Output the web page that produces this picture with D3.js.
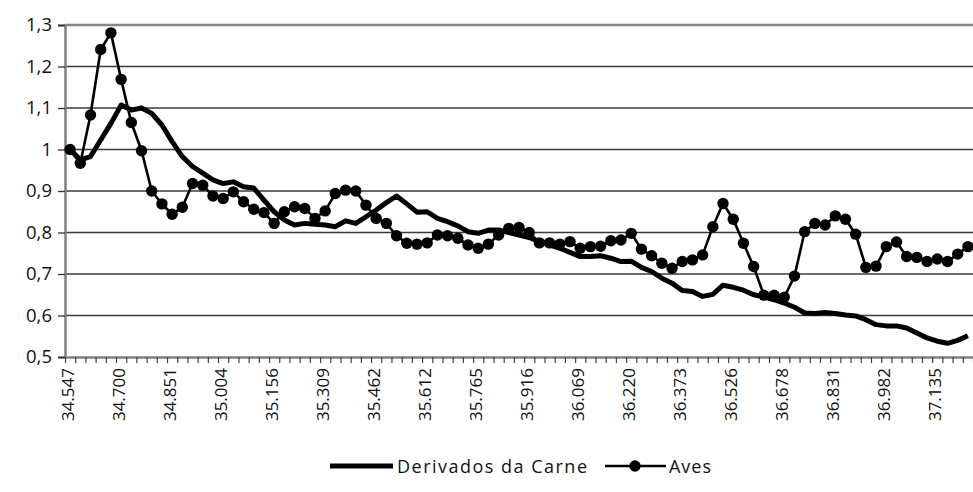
<!DOCTYPE html>
<html>
<head>
<meta charset="utf-8">
<script src="https://cdn.jsdelivr.net/npm/d3@7"></script>
<style>
  body { margin: 0; background: #fff; }
  svg { display: block; font-family: "Open Sans", "Noto Sans", sans-serif; }
</style>
</head>
<body>
<div class="chart"></div>
<script>
// months Aug 1994 .. Dec 2001 (Excel date serials shown on the axis)
const categories = d3.utcMonth.range(new Date(Date.UTC(1994, 7, 1)), new Date(Date.UTC(2002, 0, 1)))
    .map(d => d3.utcFormat("%Y-%m")(d));

const tickLabels = ["34.547", "34.700", "34.851", "35.004", "35.156", "35.309", "35.462", "35.612", "35.765",
    "35.916", "36.069", "36.220", "36.373", "36.526", "36.678", "36.831", "36.982", "37.135"];

const derivados = [1.00, 0.975, 0.983, 1.023, 1.063, 1.107, 1.095, 1.10, 1.087, 1.059,
    1.019, 0.983, 0.959, 0.943, 0.927, 0.918, 0.922, 0.910, 0.907, 0.878,
    0.85, 0.83, 0.818, 0.822, 0.82, 0.818, 0.814, 0.828, 0.822, 0.838,
    0.854, 0.872, 0.888, 0.869, 0.849, 0.85, 0.834, 0.826, 0.816, 0.802,
    0.798, 0.806, 0.806, 0.80, 0.794, 0.788, 0.778, 0.77, 0.762, 0.752,
    0.742, 0.742, 0.744, 0.738, 0.73, 0.731, 0.716, 0.706, 0.69, 0.678,
    0.66, 0.658, 0.646, 0.651, 0.673, 0.668, 0.661, 0.65, 0.645, 0.638,
    0.63, 0.62, 0.606, 0.605, 0.607, 0.605, 0.601, 0.599, 0.59, 0.578,
    0.575, 0.575, 0.57, 0.558, 0.546, 0.538, 0.533, 0.54, 0.551];

const aves = [1.00, 0.967, 1.083, 1.241, 1.281, 1.169, 1.065, 0.997, 0.90, 0.869,
    0.844, 0.861, 0.918, 0.914, 0.888, 0.882, 0.898, 0.874, 0.856, 0.848,
    0.822, 0.85, 0.862, 0.858, 0.834, 0.852, 0.894, 0.902, 0.90, 0.866,
    0.834, 0.822, 0.792, 0.774, 0.772, 0.775, 0.794, 0.792, 0.786, 0.77,
    0.762, 0.772, 0.794, 0.81, 0.812, 0.80, 0.775, 0.775, 0.772, 0.778,
    0.762, 0.766, 0.767, 0.78, 0.782, 0.798, 0.76, 0.744, 0.726, 0.714,
    0.73, 0.734, 0.746, 0.814, 0.870, 0.832, 0.774, 0.718, 0.649, 0.649,
    0.644, 0.695, 0.802, 0.822, 0.818, 0.84, 0.832, 0.796, 0.716, 0.719,
    0.766, 0.777, 0.742, 0.740, 0.73, 0.736, 0.73, 0.748, 0.766];

const yTicks = [0.5, 0.6, 0.7, 0.8, 0.9, 1.0, 1.1, 1.2, 1.3];

const width = 973, height = 492;
const margin = { top: 25, right: 0, bottom: 135, left: 65 };

const svg = d3.select(".chart").append("svg")
    .attr("width", width)
    .attr("height", height);

const x = d3.scaleLinear()
    .domain([0, categories.length])
    .range([margin.left, width - margin.right]);

const y = d3.scaleLinear()
    .domain([0.5, 1.3])
    .range([height - margin.bottom, margin.top]);

const fmt = v => v === 1 ? "1" : d3.format(".1f")(v).replace(".", ",");

// gridlines
svg.append("g")
    .selectAll("line")
    .data(yTicks.filter(v => v > 0.5 && v < 1.3))
    .join("line")
    .attr("x1", margin.left)
    .attr("x2", width)
    .attr("y1", d => y(d))
    .attr("y2", d => y(d))
    .attr("stroke", "#3a3a3a")
    .attr("stroke-width", 1.3);

// top border
svg.append("line")
    .attr("x1", margin.left).attr("x2", width)
    .attr("y1", y(1.3)).attr("y2", y(1.3))
    .attr("stroke", "#858585").attr("stroke-width", 2.5);

// y axis
const yAxis = svg.append("g")
    .attr("transform", `translate(${margin.left},0)`)
    .call(d3.axisLeft(y).tickValues(yTicks).tickSize(7).tickPadding(6).tickFormat(fmt));
yAxis.select(".domain").attr("stroke", "#808080").attr("stroke-width", 2.5);
yAxis.selectAll(".tick line").attr("stroke", "#333").attr("stroke-width", 1.3);
yAxis.selectAll("text")
    .attr("font-size", 18.5)
    .attr("fill", "#111")
    .attr("font-family", "'Open Sans', 'Noto Sans', sans-serif");

// x axis ticks at category boundaries
const xAxis = svg.append("g")
    .attr("transform", `translate(0,${y(0.5)})`)
    .call(d3.axisBottom(x).tickValues(d3.range(categories.length + 1)).tickSize(6).tickSizeOuter(0).tickFormat(""));
xAxis.select(".domain").attr("stroke", "#808080").attr("stroke-width", 2.5);
xAxis.selectAll(".tick line").attr("stroke", "#444").attr("stroke-width", 1.2);

// rotated tick labels every 5 months
svg.append("g")
    .selectAll("text")
    .data(tickLabels)
    .join("text")
    .attr("transform", (d, i) => `translate(${x(i * 5 + 0.5) - 2},${y(0.5) + 11}) rotate(-90)`)
    .attr("text-anchor", "end")
    .attr("dy", "0.35em")
    .attr("font-size", 17)
    .attr("fill", "#111")
    .text(d => d);

const line = d3.line()
    .x((d, i) => x(i + 0.5))
    .y(d => y(d));

svg.append("path")
    .datum(derivados)
    .attr("fill", "none")
    .attr("stroke", "#000")
    .attr("stroke-width", 5)
    .attr("stroke-linejoin", "round")
    .attr("d", line);

svg.append("path")
    .datum(aves)
    .attr("fill", "none")
    .attr("stroke", "#000")
    .attr("stroke-width", 2.6)
    .attr("d", line);

svg.append("g")
    .selectAll("circle")
    .data(aves)
    .join("circle")
    .attr("cx", (d, i) => x(i + 0.5))
    .attr("cy", d => y(d))
    .attr("r", 5.7)
    .attr("fill", "#000");

// legend
const legend = svg.append("g").attr("transform", "translate(0,466)");
legend.append("line")
    .attr("x1", 330).attr("x2", 393).attr("y1", 0).attr("y2", 0)
    .attr("stroke", "#000").attr("stroke-width", 5);
legend.append("text")
    .attr("x", 397).attr("y", 7)
    .attr("font-size", 18)
    .attr("textLength", 190)
    .attr("fill", "#111")
    .text("Derivados da Carne");
legend.append("line")
    .attr("x1", 605).attr("x2", 666).attr("y1", 0).attr("y2", 0)
    .attr("stroke", "#000").attr("stroke-width", 2.6);
legend.append("circle")
    .attr("cx", 635).attr("cy", 0).attr("r", 5.7).attr("fill", "#000");
legend.append("text")
    .attr("x", 669).attr("y", 7)
    .attr("font-size", 18)
    .attr("textLength", 42)
    .attr("fill", "#111")
    .text("Aves");
</script>
</body>
</html>
